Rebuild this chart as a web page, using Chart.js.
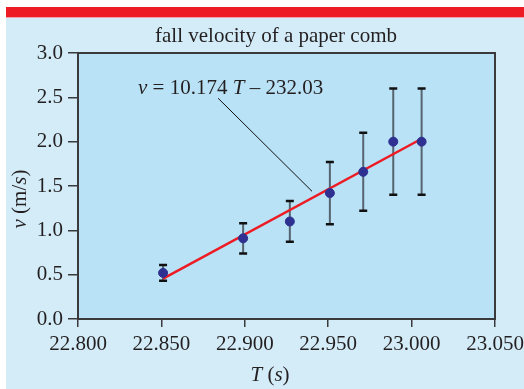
<!DOCTYPE html>
<html>
<head>
<meta charset="utf-8">
<script src="https://cdn.jsdelivr.net/npm/chart.js@4/dist/chart.umd.min.js"></script>
<style>
  html, body { margin: 0; padding: 0; background: #ffffff; }
  #wrap { width: 524px; height: 389px; }
</style>
</head>
<body>
<div id="wrap"><canvas id="grafica" width="524" height="389"></canvas></div>
<script>
// Periodo medido (s), velocidad de caida (m/s) y su incertidumbre
const periodos = [22.851, 22.899, 22.927, 22.951, 22.971, 22.989, 23.006];
const velocidades = [0.52, 0.91, 1.10, 1.42, 1.66, 2.00, 2.00];
const errores = [0.09, 0.17, 0.23, 0.35, 0.44, 0.60, 0.60];

// Recta de ajuste v = PENDIENTE * T + ORDENADA
const PENDIENTE = 10.174;
const ORDENADA = -232.03;

const ticksX = [22.800, 22.850, 22.900, 22.950, 23.000, 23.050];
const ticksY = [0.0, 0.5, 1.0, 1.5, 2.0, 2.5, 3.0];

const TITULO = "fall velocity of a paper comb";

const fuente = "'Liberation Serif', 'Times New Roman', serif";
const tinta = "#231f20";
const TAM = 21;

// puntos de la recta en los extremos de los datos
const tIni = periodos[0];
const tFin = periodos[periodos.length - 1];
const recta = [
  { x: tIni, y: PENDIENTE * tIni + ORDENADA },
  { x: tFin, y: PENDIENTE * tFin + ORDENADA }
];

// escribe texto con trozos en cursiva
function textoMixto(ctx, trozos, x, y, alinear, size) {
  let total = 0;
  trozos.forEach(p => {
    ctx.font = (p.i ? "italic " : "") + size + "px " + fuente;
    p.w = ctx.measureText(p.t).width;
    total += p.w;
  });
  let cx = alinear === "center" ? x - total / 2 : x;
  ctx.textAlign = "left";
  ctx.textBaseline = "middle";
  trozos.forEach(p => {
    ctx.font = (p.i ? "italic " : "") + size + "px " + fuente;
    ctx.fillText(p.t, cx, y);
    cx += p.w;
  });
}

const fondo = {
  id: "fondo",
  beforeDraw(chart) {
    const { ctx, width, height, chartArea: a } = chart;
    ctx.save();
    ctx.fillStyle = "#ffffff";
    ctx.fillRect(0, 0, width, height);
    ctx.fillStyle = "#d3ecf8";
    ctx.fillRect(6, 17, width - 6, height - 17);
    ctx.fillStyle = "#ed1c24";
    ctx.fillRect(6, 7, width - 6, 10);
    ctx.fillStyle = "#f3a0a8";
    ctx.fillRect(6, 17, width - 6, 1);
    ctx.fillStyle = "#b9e2f6";
    ctx.fillRect(a.left, a.top, a.right - a.left, a.bottom - a.top);
    ctx.restore();
  }
};

const barrasError = {
  id: "barrasError",
  beforeDatasetsDraw(chart) {
    const { ctx, scales: { x, y } } = chart;
    ctx.save();
    periodos.forEach((t, i) => {
      const px = x.getPixelForValue(t);
      const arriba = y.getPixelForValue(velocidades[i] + errores[i]);
      const abajo = y.getPixelForValue(velocidades[i] - errores[i]);
      ctx.strokeStyle = "#56646f";
      ctx.lineWidth = 2;
      ctx.beginPath();
      ctx.moveTo(px, arriba);
      ctx.lineTo(px, abajo);
      ctx.stroke();
      ctx.strokeStyle = "#111111";
      ctx.lineWidth = 2.5;
      ctx.beginPath();
      ctx.moveTo(px - 4, arriba);
      ctx.lineTo(px + 4, arriba);
      ctx.moveTo(px - 4, abajo);
      ctx.lineTo(px + 4, abajo);
      ctx.stroke();
    });
    ctx.restore();
  }
};

const textos = {
  id: "textos",
  afterDraw(chart) {
    const { ctx, chartArea: a, scales: { x, y } } = chart;
    ctx.save();
    // marco del area de datos
    ctx.strokeStyle = "#3a3a3c";
    ctx.lineWidth = 2;
    ctx.strokeRect(a.left, a.top, a.right - a.left, a.bottom - a.top);

    ctx.fillStyle = tinta;
    ctx.font = TAM + "px " + fuente;
    ctx.textAlign = "center";
    ctx.textBaseline = "middle";
    ctx.fillText(TITULO, 276, 36);

    // titulos de los ejes
    textoMixto(ctx, [{ t: "T", i: true }, { t: " (", i: false }, { t: "s", i: true }, { t: ")", i: false }],
      270, 375, "center", TAM);
    ctx.save();
    ctx.translate(20, 199);
    ctx.rotate(-Math.PI / 2);
    textoMixto(ctx, [{ t: "v", i: true }, { t: " (m/", i: false }, { t: "s", i: true }, { t: ")", i: false }],
      0, 0, "center", TAM);
    ctx.restore();

    // ecuacion de la recta con su linea guia
    textoMixto(ctx, [
      { t: "v", i: true },
      { t: " = " + PENDIENTE.toFixed(3) + " ", i: false },
      { t: "T", i: true },
      { t: " \u2013 " + (-ORDENADA).toFixed(2), i: false }
    ], x.getPixelForValue(22.836), y.getPixelForValue(2.6), "left", TAM);
    ctx.strokeStyle = "#111111";
    ctx.lineWidth = 1;
    ctx.beginPath();
    ctx.moveTo(x.getPixelForValue(22.884), y.getPixelForValue(2.49));
    ctx.lineTo(x.getPixelForValue(22.9403), y.getPixelForValue(1.44));
    ctx.stroke();
    ctx.restore();
  }
};

const miCanvas = document.getElementById("grafica").getContext("2d");

const chart = new Chart(miCanvas, {
  type: "scatter",
  data: {
    datasets: [
      {
        label: "ajuste",
        type: "line",
        data: recta,
        borderColor: "#ed1c24",
        borderWidth: 2.5,
        pointRadius: 0,
        order: 2
      },
      {
        label: "medidas",
        data: periodos.map((t, i) => ({ x: t, y: velocidades[i] })),
        backgroundColor: "#2e3192",
        borderColor: "#2e3192",
        pointRadius: 4.5,
        order: 1
      }
    ]
  },
  options: {
    responsive: false,
    animation: false,
    events: [],
    layout: {
      padding: { left: 0, top: 53, right: 29, bottom: 0 }
    },
    plugins: {
      legend: { display: false },
      tooltip: { enabled: false }
    },
    scales: {
      x: {
        type: "linear",
        min: ticksX[0],
        max: ticksX[ticksX.length - 1],
        afterBuildTicks: s => { s.ticks = ticksX.map(v => ({ value: v })); },
        afterFit: s => { s.height = 70; s.paddingLeft = 0; s.paddingRight = 0; },
        grid: { drawOnChartArea: false, drawTicks: true, tickLength: 8, color: "#3a3a3c", lineWidth: 1.5 },
        border: { display: true, color: "#3a3a3c", width: 2 },
        ticks: {
          padding: 5,
          color: tinta,
          font: { family: fuente, size: TAM },
          maxRotation: 0,
          callback: v => v.toFixed(3)
        }
      },
      y: {
        min: ticksY[0],
        max: ticksY[ticksY.length - 1],
        afterBuildTicks: s => { s.ticks = ticksY.map(v => ({ value: v })); },
        afterFit: s => { s.width = 78; s.paddingTop = 0; s.paddingBottom = 0; },
        grid: { drawOnChartArea: false, drawTicks: true, tickLength: 10, color: "#3a3a3c", lineWidth: 1.5 },
        border: { display: true, color: "#3a3a3c", width: 2 },
        ticks: {
          padding: 5,
          color: tinta,
          font: { family: fuente, size: TAM },
          callback: v => v.toFixed(1)
        }
      }
    }
  },
  plugins: [fondo, barrasError, textos]
});
</script>
</body>
</html>
